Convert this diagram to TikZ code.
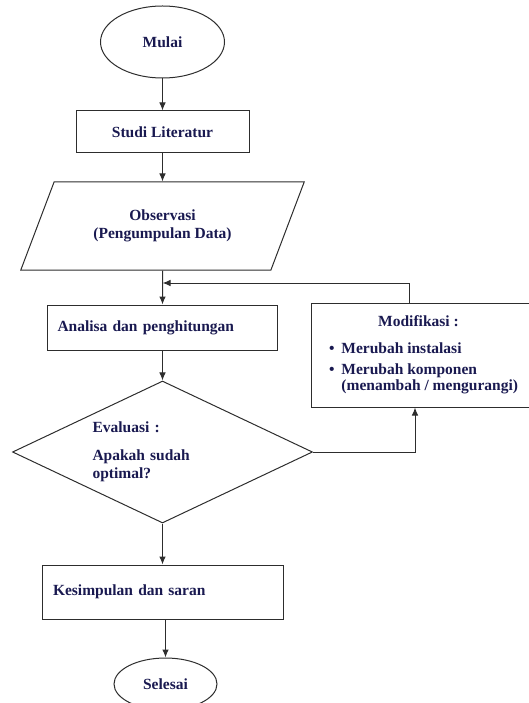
\documentclass[tikz,border=0pt]{standalone}
\usepackage{fontspec}
\setmainfont{Liberation Serif}
\usepackage{tikz}
\usetikzlibrary{shapes.geometric, calc, arrows.meta}

\definecolor{teks}{RGB}{25,25,80}
\definecolor{garis}{RGB}{45,45,45}

\begin{document}
\begin{tikzpicture}[x=1pt, y=-1pt]
		\tikzstyle{every node}=[font=\fontsize{15.5}{18}\selectfont\bfseries, text=teks]
		\tikzstyle{kotak}=[rectangle, draw=garis, line width=1pt]
		\tikzstyle{oval}=[ellipse, draw=garis, line width=1pt, inner sep=0pt]
		\tikzstyle{panah}=[-{Latex[length=8pt, width=6.5pt]}, draw=garis, line width=1pt]

		\useasboundingbox (0,0) rectangle (528,703);

		\node[oval, minimum width=124, minimum height=72] (mulai) at (162.5,42) {Mulai};

		\node[kotak, minimum width=173, minimum height=42] (studi) at (162.5,132) {Studi Literatur};

		\node[trapezium, draw=garis, line width=1pt, trapezium left angle=56.6, trapezium right angle=123.4,
			trapezium stretches=true, minimum width=284, minimum height=88, align=center, inner sep=0pt] (obs) at (162.5,226) {
			Observasi\\(Pengumpulan Data)
		};

		\coordinate (gabung) at (162.5,283);

		\node[kotak, minimum width=230, minimum height=45, text width=210, align=left] (analisa) at (162.5,327.5) {
			Analisa dan penghitungan
		};

		\node[kotak, minimum width=225, minimum height=104, inner sep=0pt] (modif) at (423.5,355) {
			\begin{tabular}{@{}l@{\hspace{7pt}}l@{}}
				\multicolumn{2}{@{}c@{}}{\hspace{-10pt}Modifikasi :}\\[9pt]
				\textbullet & Merubah instalasi\\[3pt]
				\textbullet & Merubah komponen\\[-2pt]
				& (menambah / mengurangi)
			\end{tabular}
		};

		\node[diamond, draw=garis, line width=1pt, aspect=2.1, inner sep=0pt, minimum width=300, minimum height=142,
			text width=140, align=left] (eval) at (162.5,452) {
			Evaluasi :\\[10pt]
			Apakah sudah\\optimal?
		};

		\node[kotak, minimum width=241, minimum height=54, text width=219, align=left] (kesimpulan) at (162.5,592) {
			Kesimpulan dan saran
		};

		\node[oval, minimum width=103, minimum height=52] (selesai) at (165.5,684) {Selesai};

		\draw[panah] (mulai) -- (studi);
		\draw[panah] (studi) -- (obs);
		\draw[panah] (obs) -- (analisa);
		\draw[panah] (analisa) -- (eval);
		\draw[panah] (eval) -- (kesimpulan);
		\draw[panah] (kesimpulan.south -| selesai.north) -- (selesai.north);

		\draw[panah] (eval.east) -| ([xshift=-8.5]modif.south);
		\draw[panah] ([xshift=-14.5]modif.north) |- (gabung);

	\end{tikzpicture}
\end{document}
